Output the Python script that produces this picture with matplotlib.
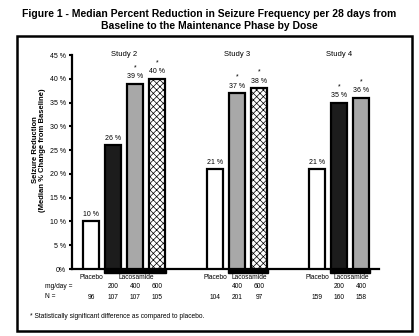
import matplotlib.pyplot as plt
from matplotlib.patches import Rectangle

# Data
studies = ['Study 2', 'Study 3', 'Study 4']
doses = [['Placebo', '200', '400', '600'],
         ['Placebo', '400', '600'],
         ['Placebo', '200', '400']]
reduction = [[10, 26, 39, 40],
             [21, 37, 38],
             [21, 35, 36]]
n_patients = [[96, 107, 107, 105],
              [104, 201, 97],
              [159, 160, 158]]
significant = [[False, False, True, True],
               [False, True, True],
               [False, True, True]]
yticks = [0, 5, 10, 15, 20, 25, 30, 35, 40, 45]

# Bar style by dose
styles = {
    'Placebo': dict(color='white', hatch=None),
    '200': dict(color='#1c1c1c', hatch=None),
    '400': dict(color='#a8a8a8', hatch=None),
    '600': dict(color='white', hatch='xxxxx'),
}

plt.rcParams['font.family'] = ['Liberation Sans', 'DejaVu Sans']
plt.rcParams['hatch.linewidth'] = 0.5

W, H = 419, 336
fig = plt.figure(figsize=(W / 100, H / 100), dpi=100)

# axes in pixel layout
x0, x1, y0, y1 = 72, 379, 269, 55
ax = fig.add_axes([x0 / W, 1 - y0 / H, (x1 - x0) / W, (y0 - y1) / H])
ax.set_xlim(0, x1 - x0)
ax.set_ylim(0, 45)

group_start = [19, 143, 245]
spacing = 22
width = 16

xt = ax.get_xaxis_transform()
for g, study in enumerate(studies):
    xs = [group_start[g] + i * spacing for i in range(len(doses[g]))]
    for x, d, v, sig, n in zip(xs, doses[g], reduction[g], significant[g], n_patients[g]):
        st = styles[d]
        ax.bar(x, v, width=width, color=st['color'], hatch=st['hatch'],
               edgecolor='black', linewidth=1.6, zorder=3)
        ax.annotate(f'{v} %', (x, v), xytext=(0, 2.5), textcoords='offset points',
                    ha='center', va='bottom', fontsize=5)
        if sig:
            ax.annotate('*', (x, v), xytext=(0, 9), textcoords='offset points',
                        ha='center', va='bottom', fontsize=5)
        if d == 'Placebo':
            ax.text(x, -0.042, 'Placebo', transform=xt, ha='center', va='center', fontsize=4.8)
        else:
            ax.text(x, -0.08, d, transform=xt, ha='center', va='center', fontsize=4.8)
        ax.text(x, -0.131, str(n), transform=xt, ha='center', va='center', fontsize=4.8)
    # black band under lacosamide bars
    lx0 = xs[1] - width / 2 - 1
    lx1 = xs[-1] + width / 2 + 1
    ax.add_patch(Rectangle((lx0, -0.018), lx1 - lx0, 0.018, transform=xt,
                           color='black', clip_on=False, zorder=4))
    ax.text((xs[1] + xs[-1]) / 2 + 1.5, -0.042, 'Lacosamide', transform=xt,
            ha='center', va='center', fontsize=4.8)
    ax.text((xs[0] + xs[-1]) / 2, 45, study, ha='center', va='center', fontsize=5.5)

ax.set_yticks(yticks)
ax.set_yticklabels([f'{t} %' if t else '0%' for t in yticks], fontsize=5)
ax.tick_params(axis='y', length=2.5, width=1.5, pad=2)
ax.tick_params(axis='x', bottom=False, labelbottom=False)
for s in ['top', 'right']:
    ax.spines[s].set_visible(False)
ax.spines['left'].set_linewidth(1.6)
ax.spines['bottom'].set_linewidth(1.6)

# row labels below axis
fig.text(45 / W, 1 - 286 / H, 'mg/day =', ha='left', va='center', fontsize=4.8)
fig.text(45 / W, 1 - 297 / H, 'N =', ha='left', va='center', fontsize=4.8)
fig.text(30 / W, 1 - 317 / H, '* Statistically significant difference as compared to placebo.',
         ha='left', va='center', fontsize=4.8)

# y label
fig.text(39 / W, 1 - 150 / H, 'Seizure Reduction\n(Median % Change from Baseline)',
         rotation=90, ha='center', va='center', fontsize=5.5, fontweight='bold',
         linespacing=1.1)

# title
fig.text(0.5, 1 - 20 / H,
         'Figure 1 - Median Percent Reduction in Seizure Frequency per 28 days from\n'
         'Baseline to the Maintenance Phase by Dose',
         ha='center', va='center', fontsize=7.5, fontweight='bold', linespacing=1.35)

# outer frame
fig.patches.append(Rectangle((17 / W, 1 - 331 / H), (412 - 17) / W, (331 - 36) / H,
                             transform=fig.transFigure, fill=False,
                             edgecolor='black', linewidth=1.8))

fig.savefig('out.png', dpi=100)
